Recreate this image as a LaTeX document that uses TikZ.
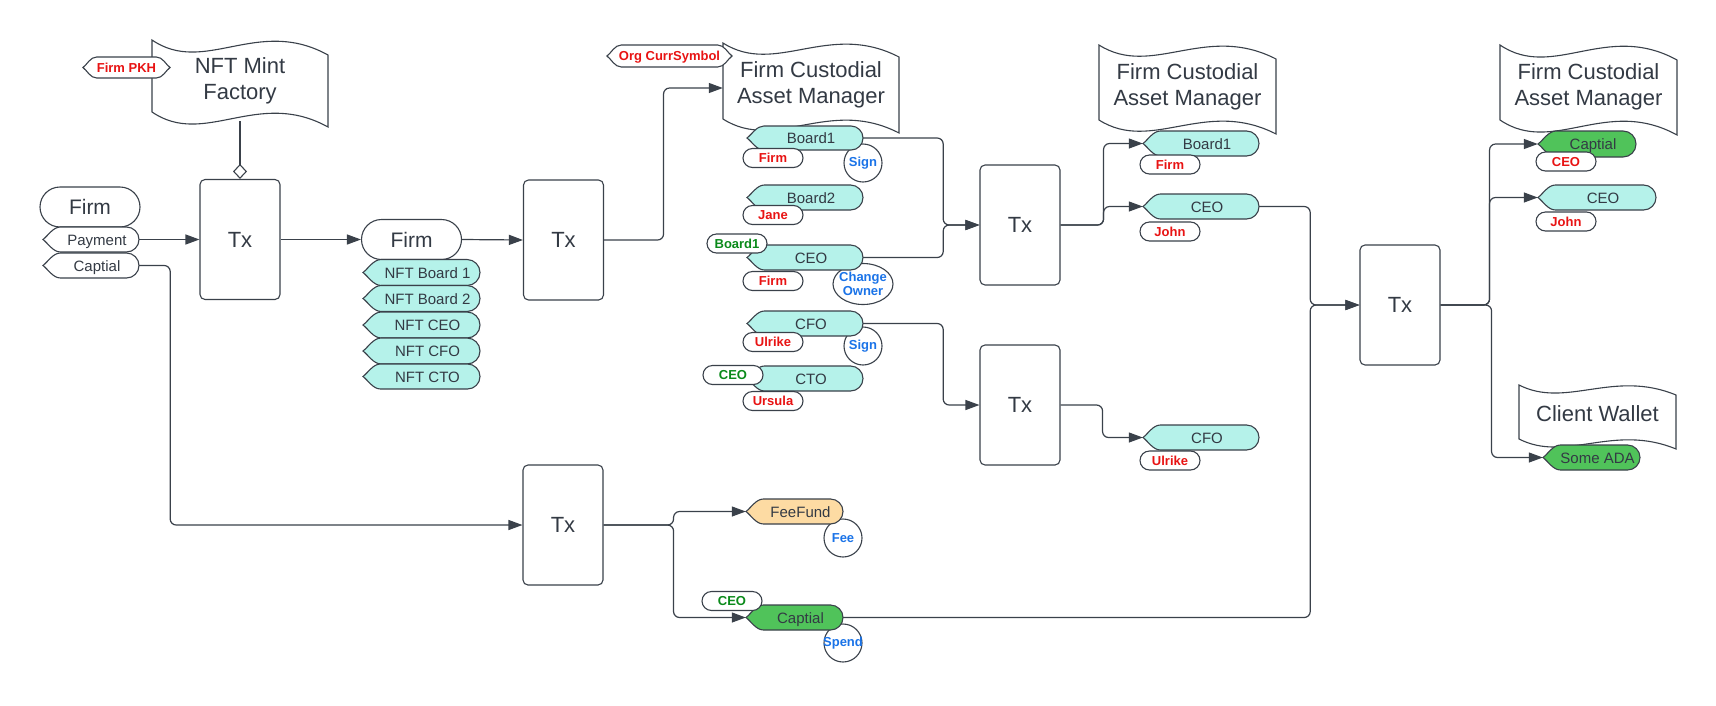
\documentclass[tikz,border=0pt]{standalone}
\usepackage{fontspec}
\setmainfont{Liberation Sans}
\usetikzlibrary{arrows.meta,shapes.misc,shapes.geometric,calc}
\definecolor{ln}{HTML}{3A414A}
\definecolor{tx}{HTML}{333A44}
\definecolor{cy}{HTML}{B5F2EA}
\definecolor{gr}{HTML}{50C35A}
\definecolor{orn}{HTML}{FDDBA3}
\definecolor{rd}{HTML}{E81313}
\definecolor{bl}{HTML}{1A73E8}
\definecolor{gn}{HTML}{0A8A1A}
\tikzset{
  shp/.style={draw=ln, line width=1.1pt},
  conn/.style={draw=ln, line width=1.2pt, rounded corners=6pt, -{Triangle[length=14pt,width=10pt]}},
  txbox/.style={shp, rounded corners=5pt, minimum width=80pt, minimum height=120pt, fill=white, text=tx, text height=15.8pt, text depth=0pt, font=\fontsize{22}{26}\selectfont},
  firm/.style={shp, rounded rectangle, minimum width=100pt, minimum height=40pt, inner sep=0pt, fill=white, text=tx, text height=15pt, text depth=0pt, font=\fontsize{21}{25}\selectfont},
  wavetxt/.style={inner sep=0pt, text=tx, align=center, font=\fontsize{22}{26}\selectfont},
  tagtxt/.style={inner sep=0pt, text=tx, text height=10.7pt, text depth=0pt, font=\fontsize{15}{18}\selectfont},
  labtxt/.style={inner sep=0pt, text height=9.3pt, text depth=0pt, font=\fontsize{13}{15}\selectfont\bfseries},
  lab/.style={shp, rounded rectangle, minimum width=60pt, minimum height=19pt, inner sep=0pt, fill=white, text=rd, text height=9.3pt, text depth=0pt, font=\fontsize{13}{15}\selectfont\bfseries},
  labg/.style={lab, text=gn},
  circ/.style={shp, circle, minimum size=38pt, inner sep=0pt, fill=white},
  circtxt/.style={inner sep=0pt, text=bl, align=center, font=\fontsize{13}{15}\selectfont\bfseries},
}
% single-pointed tag: name, cx, cy, w, h, fill, text
\newcommand\tagnode[7]{%
  \pgfmathsetmacro\tgA{#2-#4/2}\pgfmathsetmacro\tgB{#2+#4/2}%
  \pgfmathsetmacro\tgT{#3-#5/2}\pgfmathsetmacro\tgU{#3+#5/2}%
  \pgfmathsetmacro\tgR{#5/2}\pgfmathsetmacro\tgP{\tgA+#5*0.7}%
  \pgfmathsetmacro\tgK{0.552*\tgR}\pgfmathsetmacro\tgC{\tgB-\tgR}%
  \path[shp,fill=#6] (\tgP,\tgT) -- (\tgC,\tgT)
    .. controls (\tgC+\tgK,\tgT) and (\tgB,#3-\tgK) .. (\tgB,#3)
    .. controls (\tgB,#3+\tgK) and (\tgC+\tgK,\tgU) .. (\tgC,\tgU) -- (\tgP,\tgU)
    .. controls (\tgP-#5*0.3,\tgU) and (\tgA+#5*0.2,#3+#5*0.15) .. (\tgA,#3)
    .. controls (\tgA+#5*0.2,#3-#5*0.15) and (\tgP-#5*0.3,\tgT) .. (\tgP,\tgT) -- cycle;
  \node[inner sep=0pt, minimum width={#4*1pt}, minimum height={#5*1pt}] (#1) at (#2,#3) {};
  \node[tagtxt] at ([xshift=6pt,yshift=-0.5pt]#1.center) {#7};
}
% double-pointed tag: name, cx, cy, w, h, text
\newcommand\dtag[6]{%
  \pgfmathsetmacro\dgA{#2-#4/2}\pgfmathsetmacro\dgB{#2+#4/2}%
  \pgfmathsetmacro\dgT{#3-#5/2}\pgfmathsetmacro\dgU{#3+#5/2}%
  \pgfmathsetmacro\dgP{\dgA+#5*0.65}\pgfmathsetmacro\dgQ{\dgB-#5*0.65}%
  \path[shp,fill=white] (\dgP,\dgT) -- (\dgQ,\dgT)
    .. controls (\dgQ+#5*0.3,\dgT) and (\dgB-#5*0.2,#3-#5*0.15) .. (\dgB,#3)
    .. controls (\dgB-#5*0.2,#3+#5*0.15) and (\dgQ+#5*0.3,\dgU) .. (\dgQ,\dgU) -- (\dgP,\dgU)
    .. controls (\dgP-#5*0.3,\dgU) and (\dgA+#5*0.2,#3+#5*0.15) .. (\dgA,#3)
    .. controls (\dgA+#5*0.2,#3-#5*0.15) and (\dgP-#5*0.3,\dgT) .. (\dgP,\dgT) -- cycle;
  \node[labtxt, text=rd, minimum width={#4*1pt}, minimum height={#5*1pt}] (#1) at (#2,#3) {#6};
}
% wave document: name, x0, yT, x1, yB, d, text, text y
\newcommand\wavenode[8]{%
  \pgfmathsetmacro\wvW{#4-#2}%
  \path[shp,fill=white] (#2,#3)
    .. controls (#2+0.3*\wvW,#3+2.4*#6) and (#2+0.6*\wvW,#3-1.6*#6) .. (#4,#3+#6)
    -- (#4,#5+#6)
    .. controls (#2+0.6*\wvW,#5-1.6*#6) and (#2+0.3*\wvW,#5+2.4*#6) .. (#2,#5) -- cycle;
  \node[wavetxt, minimum width={\wvW*1pt}] (#1) at ({(#2+#4)/2},#8) {#7};
}
\begin{document}
\begin{tikzpicture}[x=1pt,y=-1pt]
\useasboundingbox (0,0) rectangle (1716,705);
\fill[white] (0,0) rectangle (1716,705);

% documents
\wavenode{mint}{152}{40}{328}{112}{15}{NFT Mint\\Factory}{81}
\wavenode{cam1}{723}{43}{899}{119}{14}{Firm Custodial\\Asset Manager}{85}
\wavenode{cam2}{1099}{45}{1276}{120}{14}{Firm Custodial\\Asset Manager}{87}
\wavenode{cam3}{1500}{45}{1677}{120}{15}{Firm Custodial\\Asset Manager}{87}
\wavenode{cw}{1519}{385}{1676}{439}{10}{Client Wallet}{414}
\coordinate (mintb) at (240,121);

\dtag{pkh}{126.5}{67.5}{87}{21}{Firm PKH}
\dtag{ocs}{669.5}{56}{125}{22}{Org CurrSymbol}

% transactions
\node[txbox] (tx1) at (240,239.5) {Tx};
\node[txbox] (tx2) at (563.5,240) {Tx};
\node[txbox] (txb) at (563,525) {Tx};
\node[txbox] (tx3) at (1020,225) {Tx};
\node[txbox] (tx4) at (1020,405) {Tx};
\node[txbox] (tx5) at (1400,305) {Tx};

% firm wallets
\node[firm] (firmL) at (90,207) {Firm};
\node[firm] (firmM) at (411.5,239.5) {Firm};

% circles (validators)
\node[circ] (sign1) at (863,163) {};
\node[circtxt] at (sign1) {Sign};
\node[shp, ellipse, minimum width=60pt, minimum height=41pt, inner sep=0pt, fill=white] (chg) at (863,284) {};
\node[circtxt] at (chg) {Change\\[-1pt]Owner};
\node[circ] (sign2) at (863,346) {};
\node[circtxt] at (sign2) {Sign};
\node[circ] (feec) at (843,538) {};
\node[circtxt] at (feec) {Fee};
\node[circ] (spend) at (843,643) {};
\node[circtxt] at (spend) {Spend};

% tags
\tagnode{pay}{91}{239.5}{96}{25}{white}{Payment}
\tagnode{capL}{91}{265.5}{96}{25}{white}{Captial}
\tagnode{nb1}{421.5}{272.5}{117}{26}{cy}{NFT Board 1}
\tagnode{nb2}{421.5}{298.5}{117}{26}{cy}{NFT Board 2}
\tagnode{nceo}{421.5}{325}{117}{26}{cy}{NFT CEO}
\tagnode{ncfo}{421.5}{351}{117}{26}{cy}{NFT CFO}
\tagnode{ncto}{421.5}{376.5}{117}{25}{cy}{NFT CTO}

\tagnode{b1m}{805}{138}{116}{24}{cy}{Board1}
\tagnode{b2m}{805}{197.5}{116}{25}{cy}{Board2}
\tagnode{ceom}{805}{257.5}{116}{25}{cy}{CEO}
\tagnode{cfom}{805}{323.5}{116}{25}{cy}{CFO}
\tagnode{ctom}{805}{378.5}{116}{25}{cy}{CTO}

\tagnode{b1r}{1201}{143.5}{116}{25}{cy}{Board1}
\tagnode{ceor}{1201}{206.5}{116}{25}{cy}{CEO}
\tagnode{cfor}{1201}{437.5}{116}{25}{cy}{CFO}

\tagnode{capr}{1587}{144}{98}{26}{gr}{Captial}
\tagnode{ceorr}{1597}{197.5}{118}{25}{cy}{CEO}
\tagnode{ada}{1591.5}{457.5}{97}{25}{gr}{Some ADA}

\tagnode{fee}{794.5}{511.5}{97}{25}{orn}{FeeFund}
\tagnode{capb}{794.5}{617.5}{97}{25}{gr}{Captial}

% owner / reference labels
\node[lab] (l1) at (773,158) {Firm};
\node[lab] (l2) at (773,215) {Jane};
\node[labg] (l3) at (737,243.5) {Board1};
\node[lab] (l4) at (773,281) {Firm};
\node[lab] (l5) at (773,342) {Ulrike};
\node[labg] (l6) at (733,375) {CEO};
\node[lab] (l7) at (773,401) {Ursula};
\node[lab] (l8) at (1170,164.5) {Firm};
\node[lab] (l9) at (1170,231.5) {John};
\node[lab] (l10) at (1170,460.5) {Ulrike};
\node[lab] (l11) at (1566,161.5) {CEO};
\node[lab] (l12) at (1566,221.5) {John};
\node[labg] (l13) at (732,601) {CEO};

% connectors
\draw[shp, -{Diamond[open,length=15pt,width=14pt]}] (mintb) -- (tx1.north);
\draw[conn] (pay.east) -- (tx1.west);
\draw[conn] (tx1.east) -- (firmM.west);
\draw[conn] (firmM.east) -- (tx2.west);
\draw[conn] (tx2.east) -- ++(59.5,0) |- ([yshift=-3pt]cam1.west);
\draw[conn] (capL.east) -- ++(31,0) |- (txb.west);
\draw[conn] (b1m.east) -- ++(80,0) |- (tx3.west);
\draw[conn] (ceom.east) -- ++(80,0) |- (tx3.west);
\draw[conn] (cfom.east) -- ++(80,0) |- (tx4.west);
\draw[conn] (tx3.east) -- ++(43,0) |- (b1r.west);
\draw[conn] (tx3.east) -- ++(43,0) |- (ceor.west);
\draw[conn] (tx4.east) -- ++(42,0) |- (cfor.west);
\draw[conn] (ceor.east) -- ++(51,0) |- (tx5.west);
\draw[conn] (capb.east) -- ++(467,0) |- (tx5.west);
\draw[conn] (tx5.east) -- ++(49,0) |- (capr.west);
\draw[conn] (tx5.east) -- ++(49,0) |- (ceorr.west);
\draw[conn] (tx5.east) -- ++(51,0) |- (ada.west);
\draw[conn] (txb.east) -- ++(70,0) |- (fee.west);
\draw[conn] (txb.east) -- ++(70,0) |- (capb.west);
\end{tikzpicture}
\end{document}
